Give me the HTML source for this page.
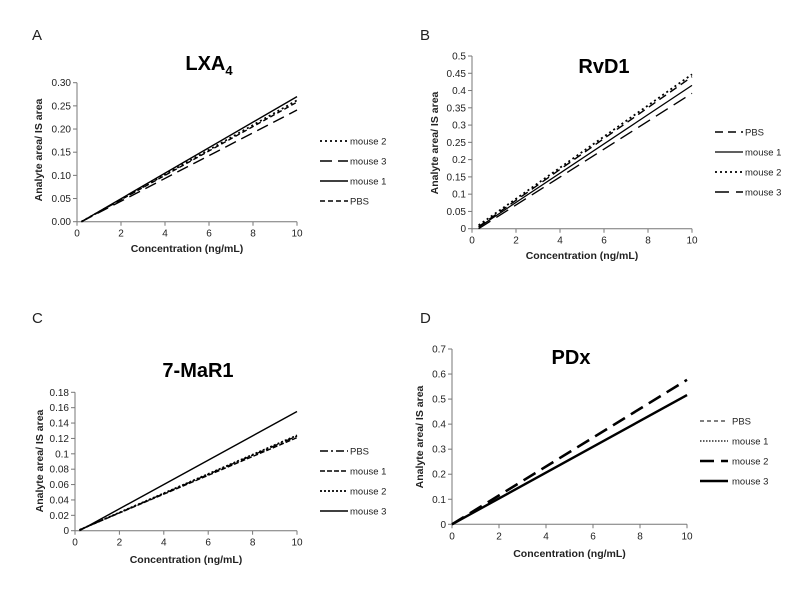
<!DOCTYPE html>
<html><head><meta charset="utf-8"><style>
body{margin:0;background:#fff}
svg text{font-family:"Liberation Sans",sans-serif;fill:#222}
.tk{font-size:10px}
.at{font-size:10.5px;font-weight:bold}
.tt{font-size:20px;font-weight:bold;fill:#000}
.lg{font-size:9.5px}
.pl{font-size:15px}
</style></head><body>
<svg id="chart" width="800" height="602" xmlns="http://www.w3.org/2000/svg"></svg>
<script>
// Panel data
const panelLetters = ["A","B","C","D"];
const panelTitles = ["LXA","RvD1","7-MaR1","PDx"];
const xTicks = [0,2,4,6,8,10];
const yTicksA = ["0.00","0.05","0.10","0.15","0.20","0.25","0.30"];
const yTicksB = ["0","0.05","0.1","0.15","0.2","0.25","0.3","0.35","0.4","0.45","0.5"];
const yTicksC = ["0","0.02","0.04","0.06","0.08","0.1","0.12","0.14","0.16","0.18"];
const yTicksD = ["0","0.1","0.2","0.3","0.4","0.5","0.6","0.7"];
const seriesNamesA = ["mouse 2","mouse 3","mouse 1","PBS"];
const seriesNamesB = ["PBS","mouse 1","mouse 2","mouse 3"];
const seriesNamesC = ["PBS","mouse 1","mouse 2","mouse 3"];
const seriesNamesD = ["PBS","mouse 1","mouse 2","mouse 3"];
// each series: [x0, y0, x1, y1]
const valuesA = [[0.2,0,10,0.262],[0.2,0,10,0.241],[0.2,0,10,0.27],[0.2,0,10,0.258]];
const valuesB = [[0.3,0.006,10,0.44],[0.3,0.004,10,0.415],[0.3,0.01,10,0.447],[0.3,0.0,10,0.392]];
const valuesC = [[0.2,0.001,10,0.123],[0.2,0.001,10,0.121],[0.2,0.001,10,0.124],[0.2,0,10,0.155]];
const valuesD = [[0,0,10,0.516],[0,0,10,0.514],[0,0,10,0.577],[0,0,10,0.516]];

const styles = {
  "A":[["2,3",1.8],["12,6",1.4],["",1.4],["5,3",1.4]],
  "B":[["8,5",1.4],["",1.3],["2,3",1.8],["14,7",1.4]],
  "C":[["8,3,2,3",1.4],["5,2",1.4],["2,2",1.8],["",1.4]],
  "D":[["4,3",1],["1.5,1.5",1.2],["14,7",2.6],["",2.4]]
};
const layout = [
 {x0:77,x1:297,y0:221.7,y1:82.7,ymax:0.30,yt:yTicksA,names:seriesNamesA,vals:valuesA,lx:320,ly:141,tx:209,ty:70,px:32,py:40,ay:150,ax:42,xt:252},
 {x0:472,x1:692,y0:228.7,y1:56,ymax:0.5,yt:yTicksB,names:seriesNamesB,vals:valuesB,lx:715,ly:132,tx:604,ty:73,px:420,py:40,ay:143,ax:438,xt:259},
 {x0:75,x1:297,y0:530.7,y1:392.3,ymax:0.18,yt:yTicksC,names:seriesNamesC,vals:valuesC,lx:320,ly:451,tx:198,ty:377,px:32,py:323,ay:461,ax:43,xt:563},
 {x0:452,x1:687,y0:524.3,y1:349,ymax:0.7,yt:yTicksD,names:seriesNamesD,vals:valuesD,lx:700,ly:421,tx:571,ty:364,px:420,py:323,ay:437,ax:423,xt:557}
];
const NS="http://www.w3.org/2000/svg";
const svg=document.getElementById("chart");
function mk(tag,attrs,parent,txt){const e=document.createElementNS(NS,tag);for(const k in attrs)e.setAttribute(k,attrs[k]);if(txt!==undefined)e.textContent=txt;(parent||svg).appendChild(e);return e;}
layout.forEach((L,i)=>{
  const letter=panelLetters[i];
  const g=mk("g",{});
  
  
  const sx=v=>L.x0+(L.x1-L.x0)*v/10;
  const sy=v=>L.y0-(L.y0-L.y1)*v/L.ymax;
  const pl=mk("text",{x:L.px,y:L.py,class:"pl"},g,letter);
  
  
  const t=mk("text",{x:L.tx,y:L.ty,class:"tt","text-anchor":"middle"},g,panelTitles[i]);
  if(i===0){mk("tspan",{"font-size":"13px",dy:"5"},t,"4");}
  
  
  const ax=mk("path",{d:`M${L.x0},${L.y1}V${L.y0}H${L.x1}`,stroke:"#777",fill:"none","stroke-width":1},g);
  
  
  L.yt.forEach(s=>{const v=parseFloat(s);const y=sy(v);
    mk("line",{x1:L.x0-4,x2:L.x0,y1:y,y2:y,stroke:"#777"},g);
    const e=mk("text",{x:L.x0-6,y:y+3.5,class:"tk","text-anchor":"end"},g,s);
    
    
  });
  xTicks.forEach(v=>{const x=sx(v);
    mk("line",{x1:x,x2:x,y1:L.y0,y2:L.y0+4,stroke:"#777"},g);
    const e=mk("text",{x:x,y:L.y0+15,class:"tk","text-anchor":"middle"},g,String(v));
    
    
  });
  const xt=mk("text",{x:(L.x0+L.x1)/2,y:L.xt,class:"at","text-anchor":"middle"},g,"Concentration (ng/mL)");
  
  
  const ytl=mk("text",{x:0,y:0,class:"at","text-anchor":"middle",transform:`translate(${L.ax},${L.ay}) rotate(-90)`},g,"Analyte area/ IS area");
  
  
  L.vals.forEach((v,j)=>{
    const st=styles[letter][j];
    const ln=mk("line",{x1:sx(v[0]),y1:sy(v[1]),x2:sx(v[2]),y2:sy(v[3]),stroke:"#000","stroke-width":st[1],"stroke-dasharray":st[0]},g);
    
    
    const ly=L.ly+j*20;
    const lg=mk("g",{},g);
    
    
    mk("line",{x1:L.lx,x2:L.lx+28,y1:ly,y2:ly,stroke:"#000","stroke-width":st[1],"stroke-dasharray":st[0]},lg);
    mk("text",{x:L.lx+(letter==="D"?32:30),y:ly+3.5,class:"lg"},lg,L.names[j]);
  });
});
</script>
</body></html>
